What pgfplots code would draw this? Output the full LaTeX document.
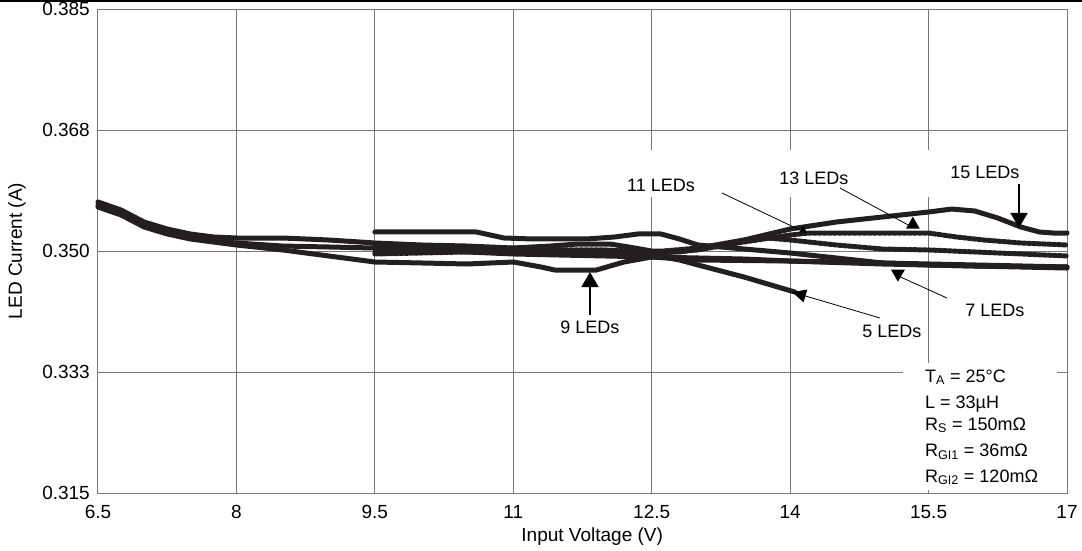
\documentclass[border=0pt]{standalone}
\usepackage{fontspec}
\setmainfont{Liberation Sans}
\usepackage{pgfplots}
\pgfplotsset{compat=1.18}
\usetikzlibrary{arrows.meta,shapes.geometric}
\definecolor{gridgray}{RGB}{120,120,120}
\definecolor{curve}{RGB}{35,31,32}
\begin{document}
\begin{tikzpicture}
\begin{axis}[
  scale only axis, width=969pt, height=484pt,
  xmin=6.5, xmax=17, ymin=0.315, ymax=0.385,
  xtick={6.5,8,9.5,11,12.5,14,15.5,17},
  xticklabels={6.5,8,9.5,11,12.5,14,15.5,17},
  ytick={0.315,0.3325,0.35,0.3675,0.385},
  yticklabels={0.315,0.333,0.350,0.368,0.385},
  grid=major, major grid style={draw=gridgray, line width=1pt},
  axis line style={draw=gridgray, line width=1pt},
  major tick length=0pt,
  tick label style={font=\fontsize{19}{22}\selectfont},
  xticklabel style={anchor=north, inner sep=0pt, yshift=-12pt},
  yticklabel style={anchor=east, inner sep=0pt, xshift=-8pt},
  label style={font=\fontsize{19}{22}\selectfont},
  xlabel={Input Voltage (V)}, ylabel={LED Current (A)},
  xlabel style={at={(axis description cs:0.51,-0.0909)}, anchor=center},
  ylabel style={at={(axis description cs:-0.0836,0.5)}, anchor=center},
  no marks,
  every axis plot post/.append style={draw=curve, line width=5pt, line join=round, line cap=round, mark=none},
  clip=false,
]
% 5 LEDs
\addplot coordinates {(6.5,0.35709)(6.75,0.35593)(7,0.35419)(7.25,0.35318)(7.5,0.35246)(7.75,0.35203)(8,0.35188)(8.5,0.35188)(9,0.35159)(9.5,0.35116)(10,0.35087)(10.5,0.35072)(11,0.35043)(11.5,0.35015)(12,0.34986)(12.5,0.34942)(12.8,0.34870)(13,0.34798)(13.5,0.34624)(14.05,0.34407)};
% 7 LEDs
\addplot coordinates {(6.5,0.35665)(6.75,0.35550)(7,0.35376)(7.25,0.35275)(7.5,0.35203)(7.75,0.35145)(8,0.35116)(8.5,0.35072)(9,0.35058)(9.5,0.35043)(10,0.35015)(10.5,0.34986)(11,0.34957)(11.5,0.34942)(12,0.34928)(12.5,0.34913)(13,0.34899)(13.5,0.34884)(14,0.34855)(15,0.34827)(16,0.34798)(17,0.34769)};
% 9 LEDs
\addplot coordinates {(6.5,0.35636)(6.75,0.35521)(7,0.35347)(7.25,0.35246)(7.5,0.35174)(7.75,0.35130)(8,0.35087)(8.5,0.35015)(9,0.34928)(9.5,0.34841)(10,0.34827)(10.5,0.34812)(11,0.34841)(11.3,0.34769)(11.45,0.34725)(11.9,0.34725)(12.2,0.34841)(12.5,0.34913)(13,0.34870)(14,0.34855)(15,0.34812)(16,0.34783)(17,0.34754)};
% bump line
\addplot coordinates {(9.5,0.35275)(10.6,0.35275)(10.9,0.35188)(11.2,0.35174)(11.8,0.35174)(12.1,0.35203)(12.35,0.35246)(12.6,0.35246)(12.8,0.35174)(13,0.35087)(13.5,0.35029)(14,0.34971)(14.5,0.34899)(15,0.34827)(15.5,0.34798)(16,0.34783)(17,0.34769)};
% 15 LEDs
\addplot coordinates {(9.5,0.34986)(10,0.34986)(10.5,0.35015)(11,0.35043)(11.4,0.35072)(11.7,0.35101)(12.05,0.35101)(12.25,0.35058)(12.5,0.35000)(12.8,0.34986)(13,0.35029)(13.5,0.35159)(14,0.35318)(14.5,0.35419)(15,0.35492)(15.5,0.35564)(15.75,0.35607)(16,0.35579)(16.25,0.35477)(16.5,0.35347)(16.7,0.35275)(16.85,0.35260)(17,0.35260)};
% 13 LEDs
\addplot coordinates {(9.5,0.35072)(10,0.35058)(10.5,0.35043)(11,0.35015)(11.5,0.34986)(12,0.34971)(12.5,0.34957)(13,0.35015)(13.5,0.35130)(14,0.35231)(14.2,0.35260)(15.5,0.35260)(15.8,0.35203)(16.1,0.35159)(16.5,0.35116)(17,0.35087)};
% 11 LEDs
\addplot coordinates {(9.5,0.34957)(10,0.34971)(10.5,0.34986)(11,0.35000)(11.5,0.35015)(12,0.35015)(12.5,0.34986)(13,0.35043)(13.5,0.35159)(13.75,0.35188)(14,0.35159)(14.5,0.35087)(15,0.35029)(15.5,0.35015)(16,0.34986)(16.5,0.34957)(17,0.34928)};

% white areas behind labels
\fill[white] (axis cs:11.939,0.36461) rectangle (axis cs:16.761,0.35781);
\fill[white] (axis cs:15.222,0.3338) rectangle (axis cs:16.891,0.31550);

% labels
\begin{scope}[font=\fontsize{18}{21}\selectfont]
\node at (axis cs:12.60,0.35955) {11 LEDs};
\node at (axis cs:14.258,0.36056) {13 LEDs};
\node at (axis cs:16.111,0.36143) {15 LEDs};
\node at (axis cs:11.831,0.33901) {9 LEDs};
\node at (axis cs:15.103,0.33843) {5 LEDs};
\node at (axis cs:16.219,0.34147) {7 LEDs};
\end{scope}

% leaders
\draw[line width=0.8pt] (axis cs:13.261,0.35839) -- (axis cs:14.106,0.35304);
\node[regular polygon, regular polygon sides=3, fill=black, inner sep=0pt, minimum size=9pt] at (axis cs:14.14,0.35300) {};
\draw[line width=0.8pt] (axis cs:14.540,0.35911) -- (axis cs:15.300,0.35362);
\node[regular polygon, regular polygon sides=3, fill=black, inner sep=0pt, minimum size=16pt] at (axis cs:15.33,0.35380) {};
\draw[line width=1.5pt, -{Triangle[length=15pt,width=17pt]}] (axis cs:16.480,0.35969) -- (axis cs:16.480,0.35333);
\draw[line width=1.5pt, -{Triangle[length=15pt,width=17pt]}] (axis cs:11.831,0.34074) -- (axis cs:11.831,0.34696);
\draw[line width=0.8pt, -{Triangle[length=14pt,width=13pt]}] (axis cs:14.973,0.34031) -- (axis cs:14.020,0.34407);
\draw[line width=0.8pt] (axis cs:15.699,0.34320) -- (axis cs:15.17,0.34640);
\node[regular polygon, regular polygon sides=3, shape border rotate=180, fill=black, inner sep=0pt, minimum size=16pt] at (axis cs:15.168,0.34672) {};

% conditions
\begin{scope}[font=\fontsize{18}{21}\selectfont]
\node[anchor=base west, inner sep=0pt] at (axis cs:15.461,0.33105) {T\textsubscript{A} = 25°C};
\node[anchor=base west, inner sep=0pt] at (axis cs:15.461,0.32729) {L = 33µH};
\node[anchor=base west, inner sep=0pt] at (axis cs:15.461,0.32411) {R\textsubscript{S} = 150mΩ};
\node[anchor=base west, inner sep=0pt] at (axis cs:15.461,0.32021) {R\textsubscript{GI1} = 36mΩ};
\node[anchor=base west, inner sep=0pt] at (axis cs:15.461,0.31659) {R\textsubscript{GI2} = 120mΩ};
\end{scope}
\end{axis}
\fill[black] (-98pt,491pt) rectangle (984pt,493pt);
\pgfresetboundingbox
\useasboundingbox (-98pt,-57pt) rectangle (984pt,493pt);
\end{tikzpicture}
\end{document}
